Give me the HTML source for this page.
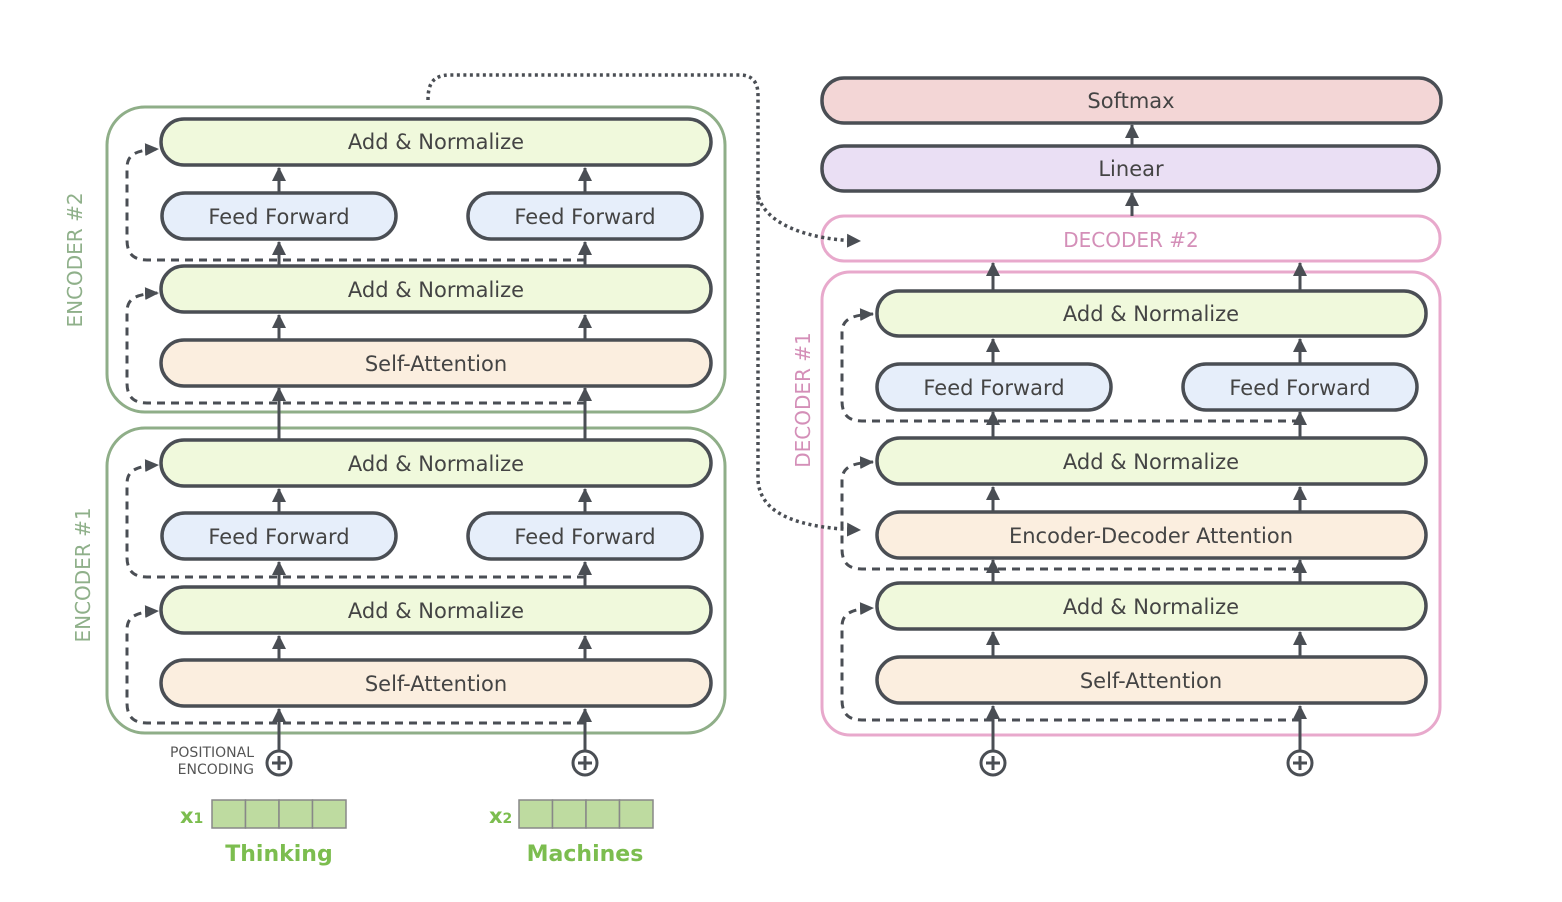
<!DOCTYPE html>
<html><head><meta charset="utf-8"><style>
html,body{margin:0;padding:0;background:#fff;}
svg{display:block;}
text{font-family:"DejaVu Sans","Liberation Sans",sans-serif;}
</style></head><body>
<svg width="1562" height="902" viewBox="0 0 1562 902" xmlns="http://www.w3.org/2000/svg">
<defs>
<marker id="ah" markerWidth="16" markerHeight="16" refX="13" refY="8" orient="auto" markerUnits="userSpaceOnUse">
<path d="M0,1.5 L14,8 L0,14.5 z" fill="#4a4e54"/></marker>
<marker id="au" markerWidth="16" markerHeight="16" refX="13" refY="8" orient="auto" markerUnits="userSpaceOnUse">
<path d="M0,1 L14,8 L0,15 z" fill="#4a4e54"/></marker>
</defs>

<!-- encoder outer boxes -->
<rect x="107" y="107" width="618" height="305" rx="38" fill="none" stroke="#8fae88" stroke-width="3"/>
<rect x="107" y="428" width="618" height="305" rx="38" fill="none" stroke="#8fae88" stroke-width="3"/>
<text transform="translate(82,260) rotate(-90)" text-anchor="middle" font-size="20" fill="#8fb08a">ENCODER #2</text>
<text transform="translate(90,575) rotate(-90)" text-anchor="middle" font-size="20" fill="#8fb08a">ENCODER #1</text>

<!-- decoder outer boxes -->
<rect x="822" y="216" width="618" height="45" rx="22" fill="none" stroke="#e8a9cc" stroke-width="3"/>
<text x="1131" y="247" text-anchor="middle" font-size="20" fill="#d48fb8">DECODER #2</text>
<rect x="822" y="272" width="618" height="463" rx="28" fill="none" stroke="#e8a9cc" stroke-width="3"/>
<text transform="translate(810,400) rotate(-90)" text-anchor="middle" font-size="20" fill="#d48fb8">DECODER #1</text>

<!-- dotted connectors -->
<g fill="none" stroke="#4a4e54" stroke-width="3.5" stroke-dasharray="3 3.5">
<path d="M428,100 C428,85 432,75 450,75 L740,75 C752,75 758,82 758,95 L758,195 C765,225 810,240 860,241" marker-end="url(#au)"/>
<path d="M758,195 L758,480 C760,515 800,528 860,530" marker-end="url(#au)"/>
</g>

<!-- dashed residual lines -->
<g fill="none" stroke="#4a4e54" stroke-width="3" stroke-dasharray="8 6">
<path d="M585,260 L147,260 C132,260 127,252 127,240 L127,168 C127,155 135,150 158,149" marker-end="url(#ah)"/>
<path d="M585,403 L147,403 C132,403 127,395 127,383 L127,312 C127,299 135,294 158,293" marker-end="url(#ah)"/>
<path d="M585,577 L147,577 C132,577 127,569 127,557 L127,484 C127,471 135,466 158,465" marker-end="url(#ah)"/>
<path d="M585,723 L147,723 C132,723 127,715 127,703 L127,630 C127,617 135,612 158,611" marker-end="url(#ah)"/>
<path d="M1300,421 L862,421 C847,421 842,413 842,401 L842,333 C842,320 850,315 873,314" marker-end="url(#ah)"/>
<path d="M1300,569 L862,569 C847,569 842,561 842,549 L842,481 C842,468 850,463 873,462" marker-end="url(#ah)"/>
<path d="M1300,720 L862,720 C847,720 842,712 842,700 L842,627 C842,614 850,609 873,608" marker-end="url(#ah)"/>
</g>

<!-- solid arrows -->
<g stroke="#4a4e54" stroke-width="3" fill="none">
<path d="M279,750 L279,709" marker-end="url(#au)"/><path d="M585,750 L585,709" marker-end="url(#au)"/>
<path d="M279,660 L279,636" marker-end="url(#au)"/><path d="M585,660 L585,636" marker-end="url(#au)"/>
<path d="M279,587 L279,562" marker-end="url(#au)"/><path d="M585,587 L585,562" marker-end="url(#au)"/>
<path d="M279,513 L279,489" marker-end="url(#au)"/><path d="M585,513 L585,489" marker-end="url(#au)"/>
<path d="M279,440 L279,388" marker-end="url(#au)"/><path d="M585,440 L585,388" marker-end="url(#au)"/>
<path d="M279,340 L279,315" marker-end="url(#au)"/><path d="M585,340 L585,315" marker-end="url(#au)"/>
<path d="M279,266 L279,242" marker-end="url(#au)"/><path d="M585,266 L585,242" marker-end="url(#au)"/>
<path d="M279,193 L279,168" marker-end="url(#au)"/><path d="M585,193 L585,168" marker-end="url(#au)"/>
<path d="M993,750 L993,706" marker-end="url(#au)"/><path d="M1300,750 L1300,706" marker-end="url(#au)"/>
<path d="M993,657 L993,632" marker-end="url(#au)"/><path d="M1300,657 L1300,632" marker-end="url(#au)"/>
<path d="M993,583 L993,560" marker-end="url(#au)"/><path d="M1300,583 L1300,560" marker-end="url(#au)"/>
<path d="M993,512 L993,487" marker-end="url(#au)"/><path d="M1300,512 L1300,487" marker-end="url(#au)"/>
<path d="M993,438 L993,412" marker-end="url(#au)"/><path d="M1300,438 L1300,412" marker-end="url(#au)"/>
<path d="M993,364 L993,339" marker-end="url(#au)"/><path d="M1300,364 L1300,339" marker-end="url(#au)"/>
<path d="M993,291 L993,263" marker-end="url(#au)"/><path d="M1300,291 L1300,263" marker-end="url(#au)"/>
<path d="M1132,216 L1132,193" marker-end="url(#au)"/>
<path d="M1132,146 L1132,125" marker-end="url(#au)"/>
</g>

<!-- boxes -->
<g stroke="#4a4e54" stroke-width="3.5">
<rect x="161" y="119" width="550" height="46" rx="23" fill="#f0f9dc"/>
<rect x="162" y="193" width="234" height="46" rx="23" fill="#e6eefa"/>
<rect x="468" y="193" width="234" height="46" rx="23" fill="#e6eefa"/>
<rect x="161" y="266" width="550" height="46" rx="23" fill="#f0f9dc"/>
<rect x="161" y="340" width="550" height="46" rx="23" fill="#fbeedf"/>
<rect x="161" y="440" width="550" height="46" rx="23" fill="#f0f9dc"/>
<rect x="162" y="513" width="234" height="46" rx="23" fill="#e6eefa"/>
<rect x="468" y="513" width="234" height="46" rx="23" fill="#e6eefa"/>
<rect x="161" y="587" width="550" height="46" rx="23" fill="#f0f9dc"/>
<rect x="161" y="660" width="550" height="46" rx="23" fill="#fbeedf"/>

<rect x="822" y="78" width="619" height="45" rx="22" fill="#f3d6d6"/>
<rect x="822" y="146" width="617" height="45" rx="22" fill="#eadff4"/>
<rect x="877" y="291" width="549" height="45" rx="22" fill="#f0f9dc"/>
<rect x="877" y="364" width="234" height="46" rx="23" fill="#e6eefa"/>
<rect x="1183" y="364" width="234" height="46" rx="23" fill="#e6eefa"/>
<rect x="877" y="438" width="549" height="46" rx="23" fill="#f0f9dc"/>
<rect x="877" y="512" width="549" height="46" rx="23" fill="#fbeedf"/>
<rect x="877" y="583" width="549" height="46" rx="23" fill="#f0f9dc"/>
<rect x="877" y="657" width="549" height="46" rx="23" fill="#fbeedf"/>
</g>
<g font-size="21" fill="#444" text-anchor="middle">
<text x="436" y="149">Add &amp; Normalize</text>
<text x="279" y="224">Feed Forward</text>
<text x="585" y="224">Feed Forward</text>
<text x="436" y="297">Add &amp; Normalize</text>
<text x="436" y="371">Self-Attention</text>
<text x="436" y="471">Add &amp; Normalize</text>
<text x="279" y="544">Feed Forward</text>
<text x="585" y="544">Feed Forward</text>
<text x="436" y="618">Add &amp; Normalize</text>
<text x="436" y="691">Self-Attention</text>
<text x="1131" y="108">Softmax</text>
<text x="1131" y="176">Linear</text>
<text x="1151" y="321">Add &amp; Normalize</text>
<text x="994" y="395">Feed Forward</text>
<text x="1300" y="395">Feed Forward</text>
<text x="1151" y="469">Add &amp; Normalize</text>
<text x="1151" y="543">Encoder-Decoder Attention</text>
<text x="1151" y="614">Add &amp; Normalize</text>
<text x="1151" y="688">Self-Attention</text>
</g>

<!-- plus circles -->
<g stroke="#4a4e54" stroke-width="3" fill="#fff">
<circle cx="279" cy="763" r="12"/><circle cx="585" cy="763" r="12"/>
<circle cx="993" cy="763" r="12"/><circle cx="1300" cy="763" r="12"/>
<path d="M272,763h14M279,756v14M578,763h14M585,756v14M986,763h14M993,756v14M1293,763h14M1300,756v14" fill="none"/>
</g>
<text x="254" y="757" font-size="14" fill="#555" text-anchor="end">POSITIONAL</text>
<text x="254" y="774" font-size="14" fill="#555" text-anchor="end">ENCODING</text>

<!-- embeddings -->
<g stroke="#888" stroke-width="1.5" fill="#bedba0">
<rect x="212" y="800" width="33.5" height="28"/><rect x="245.5" y="800" width="33.5" height="28"/><rect x="279" y="800" width="33.5" height="28"/><rect x="312.5" y="800" width="33.5" height="28"/>
<rect x="519" y="800" width="33.5" height="28"/><rect x="552.5" y="800" width="33.5" height="28"/><rect x="586" y="800" width="33.5" height="28"/><rect x="619.5" y="800" width="33.5" height="28"/>
</g>
<g fill="#7cbd4f" font-weight="bold">
<text x="180" y="823" font-size="21">x<tspan font-size="14">1</tspan></text>
<text x="489" y="823" font-size="21">x<tspan font-size="14">2</tspan></text>
<text x="279" y="861" font-size="22" text-anchor="middle">Thinking</text>
<text x="585" y="861" font-size="22" text-anchor="middle">Machines</text>
</g>
</svg>
</body></html>
